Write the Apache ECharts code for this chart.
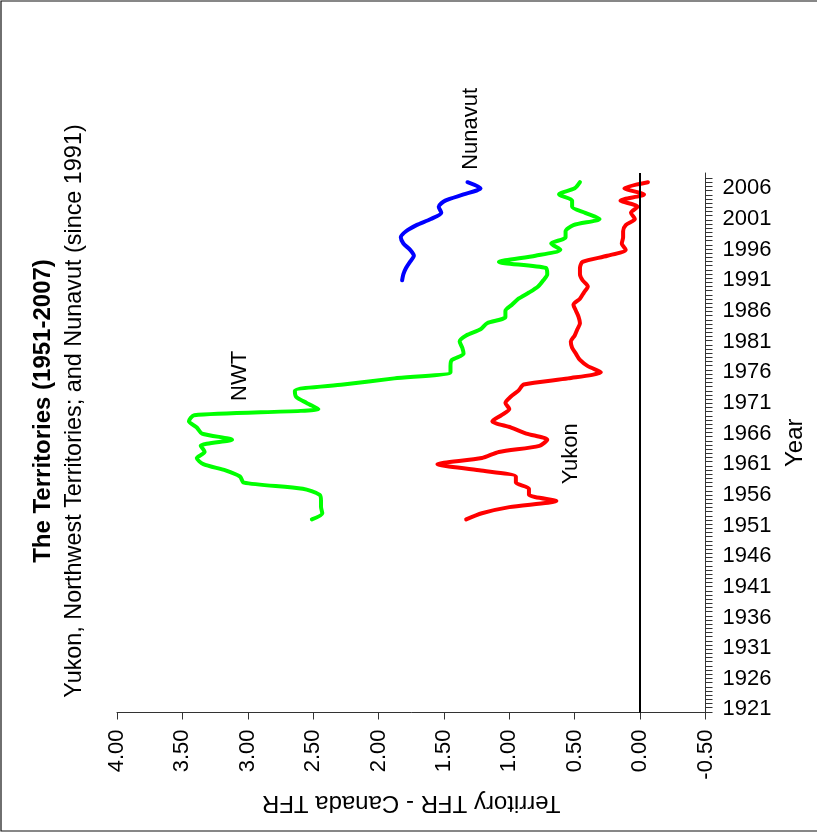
<!DOCTYPE html>
<html><head><meta charset="utf-8">
<script src="https://cdn.jsdelivr.net/npm/echarts@6/dist/echarts.min.js"></script>
<style>html,body{margin:0;padding:0;background:#fff}#c{width:817px;height:839px}</style>
</head><body><div id="c"></div>
<script>
// ---- data ----
const years = [1952,1953,1954,1955,1956,1957,1958,1959,1960,1961,
  1962,1963,1964,1965,1966,1967,1968,1969,1970,1971,
  1972,1973,1974,1975,1976,1977,1978,1979,1980,1981,
  1982,1983,1984,1985,1986,1987,1988,1989,1990,1991,
  1992,1993,1994,1995,1996,1997,1998,1999,2000,2001,
  2002,2003,2004,2005,2006,2007];
const nwt = [2.51,2.43,2.44,2.44,2.45,2.58,3.03,3.06,3.17,3.34,
  3.39,3.33,3.36,3.12,3.35,3.39,3.45,3.41,2.46,2.55,
  2.63,2.64,2.27,1.88,1.45,1.45,1.44,1.35,1.36,1.38,
  1.33,1.22,1.17,1.03,1.03,0.98,0.93,0.85,0.78,0.74,
  0.71,0.72,1.08,0.80,0.61,0.68,0.57,0.57,0.51,0.31,
  0.42,0.52,0.52,0.62,0.50,0.46];
const yukon = [1.33,1.21,1.00,0.64,0.85,0.85,0.95,0.95,1.23,1.55,
  1.21,1.08,0.77,0.71,0.87,0.99,1.13,1.06,1.00,1.03,
  0.99,0.93,0.89,0.55,0.30,0.40,0.46,0.49,0.52,0.53,
  0.50,0.48,0.46,0.47,0.49,0.51,0.46,0.43,0.40,0.44,
  0.46,0.46,0.44,0.25,0.11,0.14,0.13,0.13,0.11,0.04,
  0.07,0.02,0.15,-0.03,0.12,-0.06];
const nunavutYears = [1991,1992,1993,1994,1995,1996,1997,1998,1999,2000,2001,2002,2003,2004,2005,2006,2007];
const nunavut = [1.82,1.81,1.79,1.76,1.73,1.76,1.81,1.83,1.79,1.71,1.60,1.52,1.54,1.49,1.35,1.22,1.32];
const yearLabels = [1921,1926,1931,1936,1941,1946,1951,1956,1961,1966,1971,1976,1981,1986,1991,1996,2001,2006];
const seriesNames = ['NWT','Yukon','Nunavut'];
const titleText = 'The Territories (1951-2007)';
const subtitleText = 'Yukon, Northwest Territories; and Nunavut (since 1991)';
const xName = 'Territory TFR - Canada TFR';
const yName = 'Year';

// ---- layout / style ----
const FONT = '"Liberation Sans", Arial, sans-serif';
const labelAnchors = { NWT: [3.06, 1975.4], Yukon: [0.53, 1962.7], Nunavut: [1.29, 2015.7] };
const tickVals = [];
for (let t = 2007.66; t >= 1920.5; t -= 0.68) tickVals.push(t);

const pairs = (xs, ys) => xs.map((y, i) => [ys[i], y]);

const chart = echarts.init(document.getElementById('c'), null, { renderer: 'canvas' });
const lineSeries = (name, data, color) => ({
  name, type: 'line', data, showSymbol: false, symbol: 'none', smooth: 0.25,
  lineStyle: { color, width: 4, cap: 'round', join: 'round' }, z: 3, animation: false
});
const series = [
  lineSeries(seriesNames[0], pairs(years, nwt), '#00ff00'),
  lineSeries(seriesNames[1], pairs(years, yukon), '#ff0000'),
  lineSeries(seriesNames[2], pairs(nunavutYears, nunavut), '#0000ff')
];
series[1].markLine = {
  silent: true, symbol: ['none', 'none'], label: { show: false }, animation: false,
  lineStyle: { color: '#000', width: 2, type: 'solid' }, data: [{ xAxis: 0 }]
};

chart.setOption({
  animation: false,
  backgroundColor: '#fff',
  grid: { left: 117, right: 111.5, top: 173, bottom: 126.5 },
  xAxis: {
    type: 'value', inverse: true, min: -0.5, max: 4, interval: 0.5, position: 'bottom',
    axisLine: { show: true, onZero: false, lineStyle: { color: '#333', width: 1 } },
    axisTick: { show: true, length: 7, lineStyle: { color: '#333' } },
    splitLine: { show: false },
    axisLabel: { rotate: 90, margin: 17, fontSize: 22, color: '#000', fontFamily: FONT,
      formatter: v => v.toFixed(2) },
    name: xName, nameLocation: 'middle', nameRotate: 180, nameGap: 78,
    nameTextStyle: { fontSize: 24, color: '#000', fontFamily: FONT }
  },
  yAxis: {
    type: 'value', position: 'right', min: 1920.5, max: 2008.5,
    axisLine: { show: true, onZero: false, lineStyle: { color: '#333', width: 1 } },
    axisTick: { show: true, length: 7, customValues: tickVals, lineStyle: { color: '#333' } },
    splitLine: { show: false },
    axisLabel: { customValues: yearLabels, margin: 17, fontSize: 22, color: '#000', fontFamily: FONT,
      formatter: v => String(Math.round(v)) },
    name: yName, nameLocation: 'middle', nameRotate: 90, nameGap: 78,
    nameTextStyle: { fontSize: 24, color: '#000', fontFamily: FONT, padding: [0, 0, 0, 0] }
  },
  series
});

const txt = (text, x, y, size, weight) => ({
  type: 'text', x, y, rotation: Math.PI / 2, silent: true, z: 10,
  style: { text, fontSize: size, fontWeight: weight || 'normal', fontFamily: FONT, fill: '#000',
    align: 'center', verticalAlign: 'middle', textAlign: 'center', textVerticalAlign: 'middle' }
});
const graphics = [
  { type: 'rect', silent: true, shape: { x: 1, y: 1, width: 860, height: 830 },
    style: { fill: 'none', stroke: '#111', lineWidth: 1.2 } },
  txt(titleText, 43, 411, 24, 'bold'),
  txt(subtitleText, 75, 411, 23.4)
];
seriesNames.forEach(n => {
  const p = chart.convertToPixel({ gridIndex: 0 }, labelAnchors[n]);
  graphics.push(txt(n, p[0], p[1], 22));
});
chart.setOption({ graphic: graphics });
</script></body></html>
